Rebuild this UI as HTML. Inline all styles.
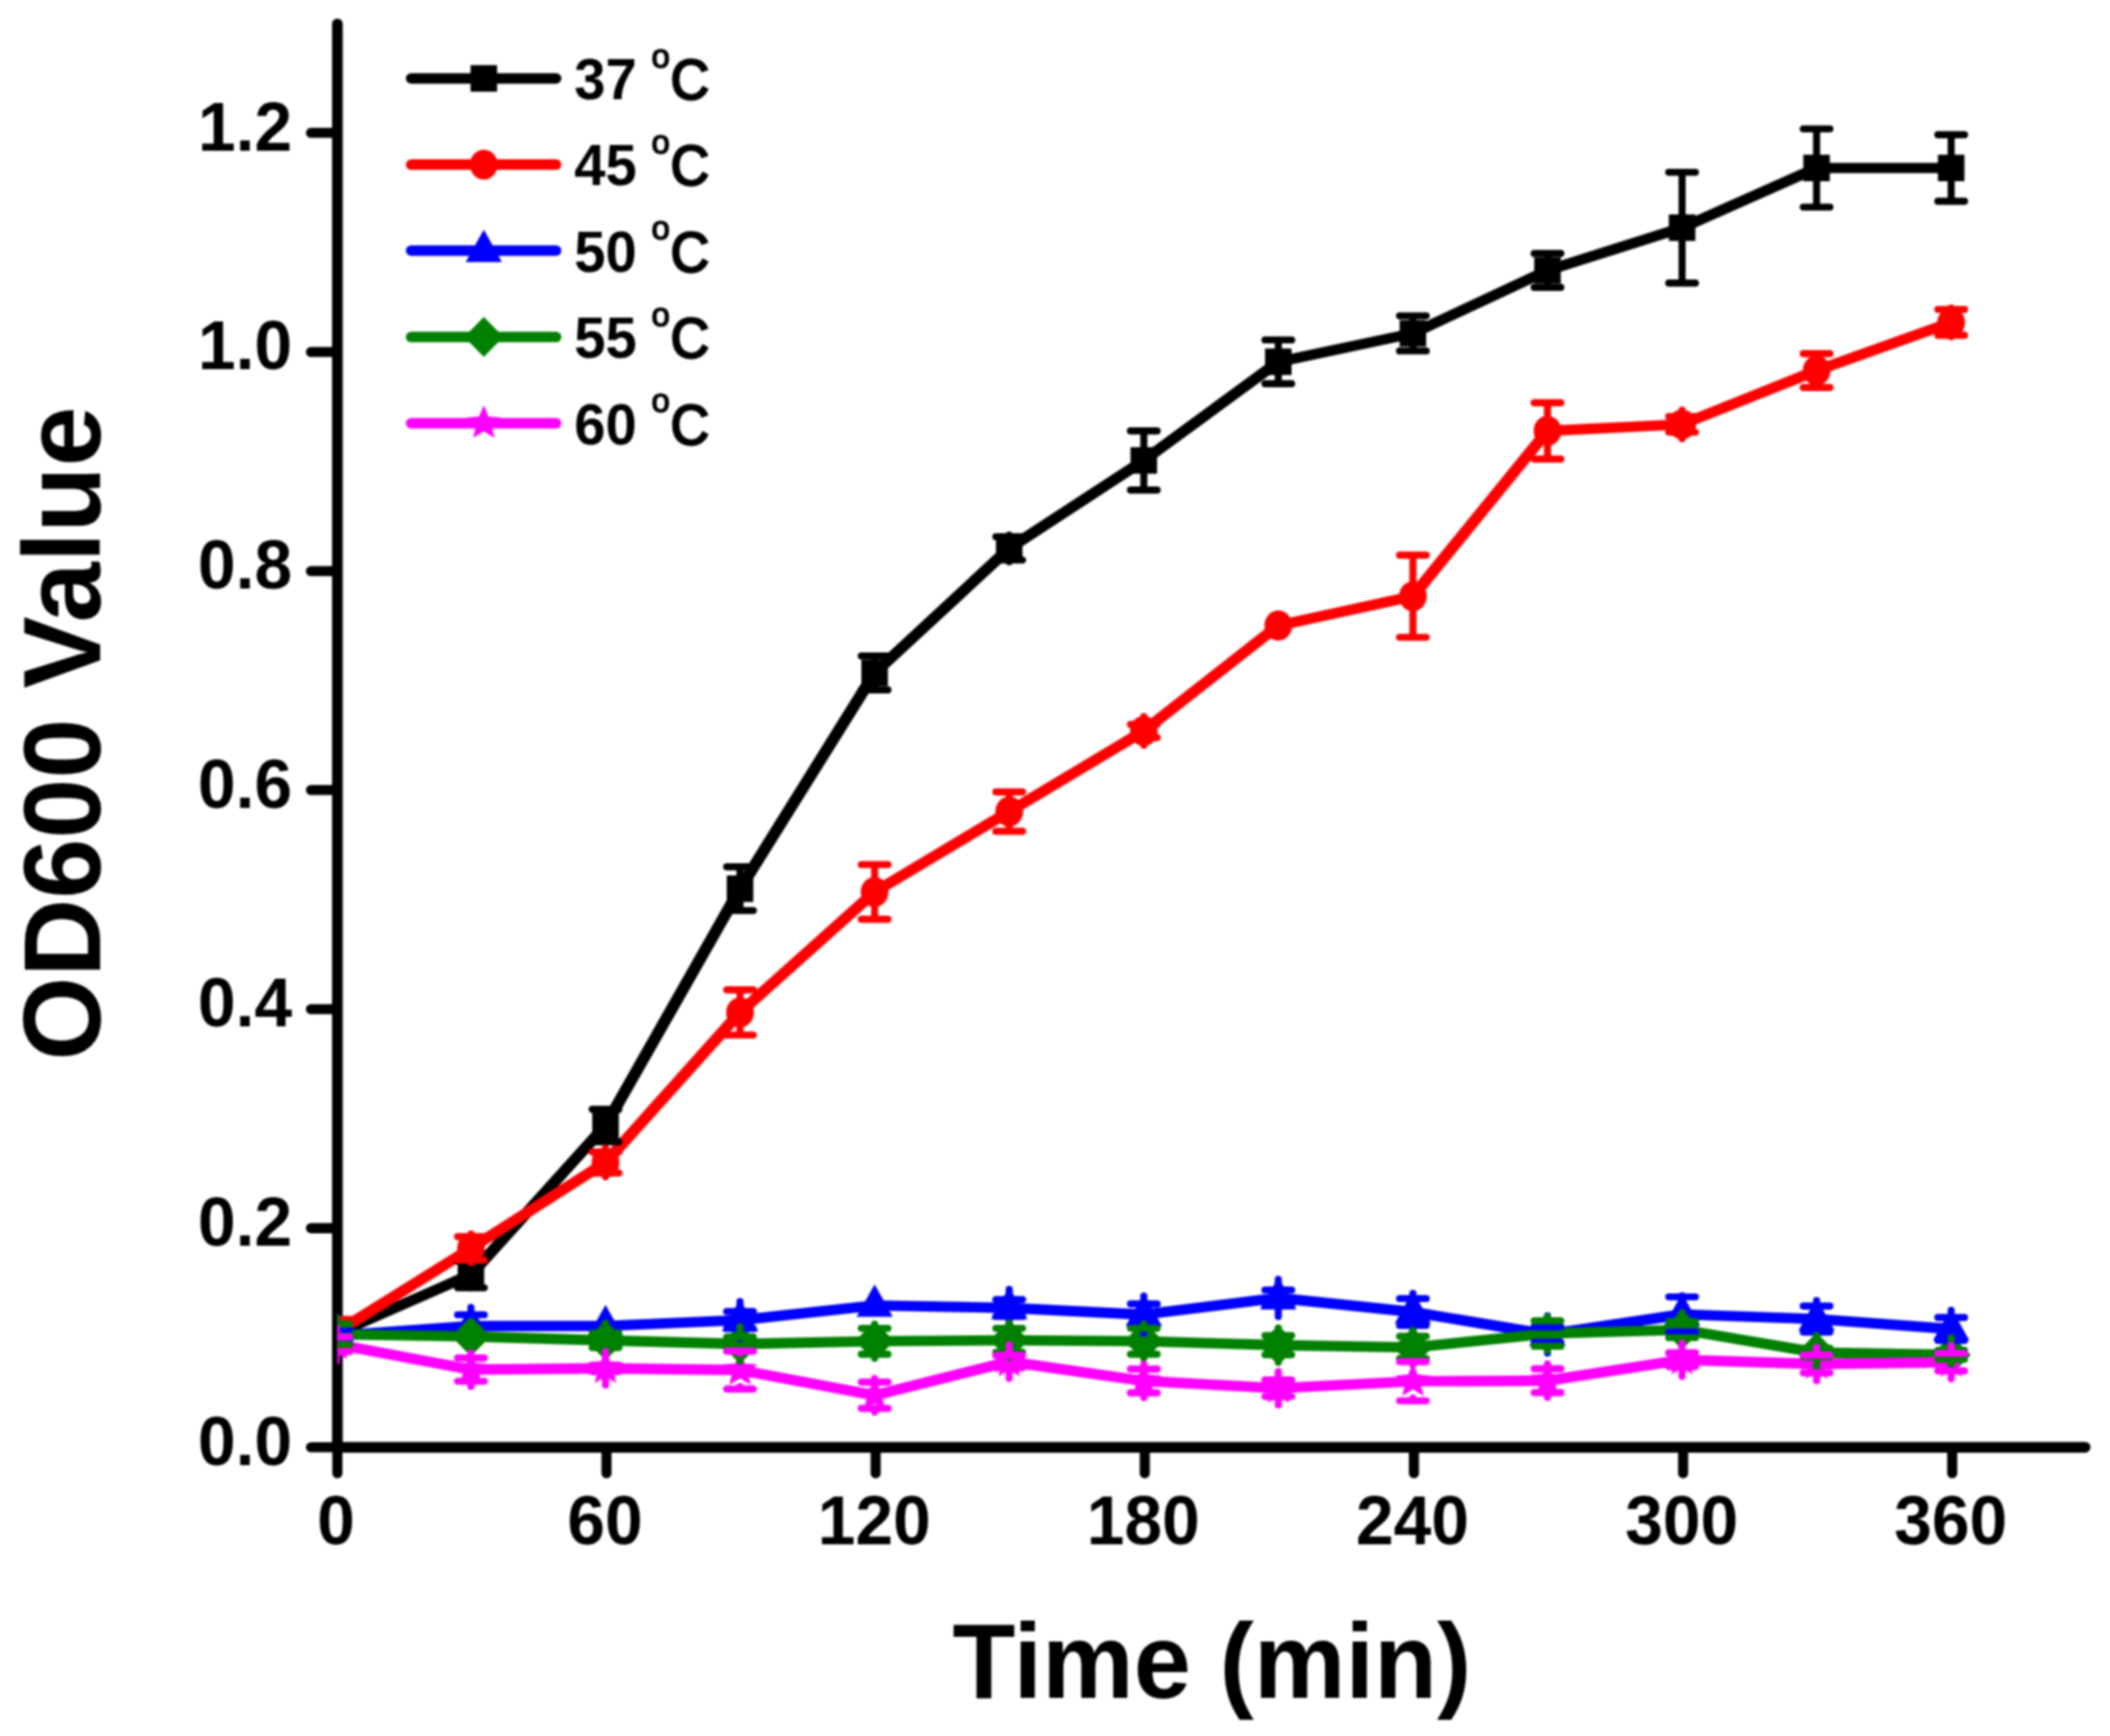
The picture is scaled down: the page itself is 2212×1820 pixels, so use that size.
<!DOCTYPE html>
<html><head><meta charset="utf-8"><style>
html,body{margin:0;padding:0;background:#fff;overflow:hidden;}
svg{display:block;}
.wrap{filter:blur(0.8px);}
text{font-family:"Liberation Sans",Arial,sans-serif;fill:#000;}
.tl{font-size:69px;font-weight:bold;}
.ttl{font-size:112px;font-weight:bold;}
.lg{font-size:59px;}
.b{font-weight:bold;}
.sup{font-size:34.5px;font-weight:normal;stroke:#000;stroke-width:1.5px;}
.r{font-weight:normal;stroke:#000;stroke-width:2.6px;}
</style></head><body>
<div class="wrap"><svg width="2212" height="1820" viewBox="0 0 2212 1820">
<rect width="2212" height="1820" fill="#fff"/>
<defs><clipPath id="pc"><rect x="353.7" y="0" width="1858.3" height="1820"/></clipPath></defs>
<path d="M353.7 25V1517.3H2186" stroke="#000" stroke-width="11.2" stroke-linecap="round" stroke-linejoin="miter" fill="none"/><path d="M353.7 1517.3H326M353.7 1287.6H326M353.7 1058.0H326M353.7 828.3H326M353.7 598.7H326M353.7 369.0H326M353.7 139.3H326M353.7 1517.3V1544.5M635.8 1517.3V1544.5M918.0 1517.3V1544.5M1200.1 1517.3V1544.5M1482.3 1517.3V1544.5M1764.5 1517.3V1544.5M2046.6 1517.3V1544.5" stroke="#000" stroke-width="10.6" stroke-linecap="round" fill="none"/>
<g clip-path="url(#pc)">
<line x1="352.6" y1="1398.2" x2="493.7" y2="1336.2" stroke="#000000" stroke-width="11.19" stroke-linecap="round"/>
<line x1="493.7" y1="1336.2" x2="634.8" y2="1180.0" stroke="#000000" stroke-width="11.89" stroke-linecap="round"/>
<line x1="634.8" y1="1180.0" x2="775.8" y2="931.7" stroke="#000000" stroke-width="12.26" stroke-linecap="round"/>
<line x1="775.8" y1="931.7" x2="916.9" y2="705.5" stroke="#000000" stroke-width="12.20" stroke-linecap="round"/>
<line x1="916.9" y1="705.5" x2="1058.0" y2="574.9" stroke="#000000" stroke-width="11.73" stroke-linecap="round"/>
<line x1="1058.0" y1="574.9" x2="1199.1" y2="482.7" stroke="#000000" stroke-width="11.44" stroke-linecap="round"/>
<line x1="1199.1" y1="482.7" x2="1340.1" y2="379.3" stroke="#000000" stroke-width="11.53" stroke-linecap="round"/>
<line x1="1340.1" y1="379.3" x2="1481.2" y2="349.5" stroke="#000000" stroke-width="10.98" stroke-linecap="round"/>
<line x1="1481.2" y1="349.5" x2="1622.3" y2="283.5" stroke="#000000" stroke-width="11.22" stroke-linecap="round"/>
<line x1="1622.3" y1="283.5" x2="1763.4" y2="238.7" stroke="#000000" stroke-width="11.06" stroke-linecap="round"/>
<line x1="1763.4" y1="238.7" x2="1904.4" y2="176.1" stroke="#000000" stroke-width="11.20" stroke-linecap="round"/>
<line x1="1904.4" y1="176.1" x2="2045.5" y2="176.1" stroke="#000000" stroke-width="10.90" stroke-linecap="round"/>
<rect x="338.7" y="1384.3" width="27.8" height="27.8" fill="#000000"/>
<rect x="479.8" y="1322.3" width="27.8" height="27.8" fill="#000000"/>
<rect x="620.9" y="1166.1" width="27.8" height="27.8" fill="#000000"/>
<rect x="761.9" y="917.8" width="27.8" height="27.8" fill="#000000"/>
<rect x="903.0" y="691.6" width="27.8" height="27.8" fill="#000000"/>
<rect x="1044.1" y="561.0" width="27.8" height="27.8" fill="#000000"/>
<rect x="1185.2" y="468.8" width="27.8" height="27.8" fill="#000000"/>
<rect x="1326.2" y="365.4" width="27.8" height="27.8" fill="#000000"/>
<rect x="1467.3" y="335.6" width="27.8" height="27.8" fill="#000000"/>
<rect x="1608.4" y="269.6" width="27.8" height="27.8" fill="#000000"/>
<rect x="1749.5" y="224.8" width="27.8" height="27.8" fill="#000000"/>
<rect x="1890.5" y="162.2" width="27.8" height="27.8" fill="#000000"/>
<rect x="2031.6" y="162.2" width="27.8" height="27.8" fill="#000000"/>
<line x1="352.6" y1="1396.8" x2="493.7" y2="1308.8" stroke="#ff0000" stroke-width="11.40" stroke-linecap="round"/>
<line x1="493.7" y1="1308.8" x2="634.8" y2="1218.7" stroke="#ff0000" stroke-width="11.42" stroke-linecap="round"/>
<line x1="634.8" y1="1218.7" x2="775.8" y2="1061.4" stroke="#ff0000" stroke-width="11.90" stroke-linecap="round"/>
<line x1="775.8" y1="1061.4" x2="916.9" y2="935.1" stroke="#ff0000" stroke-width="11.70" stroke-linecap="round"/>
<line x1="916.9" y1="935.1" x2="1058.0" y2="850.8" stroke="#ff0000" stroke-width="11.37" stroke-linecap="round"/>
<line x1="1058.0" y1="850.8" x2="1199.1" y2="766.3" stroke="#ff0000" stroke-width="11.38" stroke-linecap="round"/>
<line x1="1199.1" y1="766.3" x2="1340.1" y2="655.8" stroke="#ff0000" stroke-width="11.58" stroke-linecap="round"/>
<line x1="1340.1" y1="655.8" x2="1481.2" y2="625.1" stroke="#ff0000" stroke-width="10.98" stroke-linecap="round"/>
<line x1="1481.2" y1="625.1" x2="1622.3" y2="451.7" stroke="#ff0000" stroke-width="11.98" stroke-linecap="round"/>
<line x1="1622.3" y1="451.7" x2="1763.4" y2="444.9" stroke="#ff0000" stroke-width="10.90" stroke-linecap="round"/>
<line x1="1763.4" y1="444.9" x2="1904.4" y2="388.5" stroke="#ff0000" stroke-width="11.15" stroke-linecap="round"/>
<line x1="1904.4" y1="388.5" x2="2045.5" y2="338.0" stroke="#ff0000" stroke-width="11.10" stroke-linecap="round"/>
<ellipse cx="352.6" cy="1396.8" rx="14.5" ry="15.7" fill="#ff0000"/>
<ellipse cx="493.7" cy="1308.8" rx="14.5" ry="15.7" fill="#ff0000"/>
<ellipse cx="634.8" cy="1218.7" rx="14.5" ry="15.7" fill="#ff0000"/>
<ellipse cx="775.8" cy="1061.4" rx="14.5" ry="15.7" fill="#ff0000"/>
<ellipse cx="916.9" cy="935.1" rx="14.5" ry="15.7" fill="#ff0000"/>
<ellipse cx="1058.0" cy="850.8" rx="14.5" ry="15.7" fill="#ff0000"/>
<ellipse cx="1199.1" cy="766.3" rx="14.5" ry="15.7" fill="#ff0000"/>
<ellipse cx="1340.1" cy="655.8" rx="14.5" ry="15.7" fill="#ff0000"/>
<ellipse cx="1481.2" cy="625.1" rx="14.5" ry="15.7" fill="#ff0000"/>
<ellipse cx="1622.3" cy="451.7" rx="14.5" ry="15.7" fill="#ff0000"/>
<ellipse cx="1763.4" cy="444.9" rx="14.5" ry="15.7" fill="#ff0000"/>
<ellipse cx="1904.4" cy="388.5" rx="14.5" ry="15.7" fill="#ff0000"/>
<ellipse cx="2045.5" cy="338.0" rx="14.5" ry="15.7" fill="#ff0000"/>
<line x1="352.6" y1="1400.3" x2="493.7" y2="1390.3" stroke="#0000ff" stroke-width="10.91" stroke-linecap="round"/>
<line x1="493.7" y1="1390.3" x2="634.8" y2="1390.1" stroke="#0000ff" stroke-width="10.90" stroke-linecap="round"/>
<line x1="634.8" y1="1390.1" x2="775.8" y2="1384.0" stroke="#0000ff" stroke-width="10.90" stroke-linecap="round"/>
<line x1="775.8" y1="1384.0" x2="916.9" y2="1368.6" stroke="#0000ff" stroke-width="10.92" stroke-linecap="round"/>
<line x1="916.9" y1="1368.6" x2="1058.0" y2="1371.2" stroke="#0000ff" stroke-width="10.90" stroke-linecap="round"/>
<line x1="1058.0" y1="1371.2" x2="1199.1" y2="1378.2" stroke="#0000ff" stroke-width="10.90" stroke-linecap="round"/>
<line x1="1199.1" y1="1378.2" x2="1340.1" y2="1360.7" stroke="#0000ff" stroke-width="10.93" stroke-linecap="round"/>
<line x1="1340.1" y1="1360.7" x2="1481.2" y2="1375.5" stroke="#0000ff" stroke-width="10.92" stroke-linecap="round"/>
<line x1="1481.2" y1="1375.5" x2="1622.3" y2="1399.0" stroke="#0000ff" stroke-width="10.95" stroke-linecap="round"/>
<line x1="1622.3" y1="1399.0" x2="1763.4" y2="1378.0" stroke="#0000ff" stroke-width="10.94" stroke-linecap="round"/>
<line x1="1763.4" y1="1378.0" x2="1904.4" y2="1382.9" stroke="#0000ff" stroke-width="10.90" stroke-linecap="round"/>
<line x1="1904.4" y1="1382.9" x2="2045.5" y2="1393.3" stroke="#0000ff" stroke-width="10.91" stroke-linecap="round"/>
<polygon points="352.6,1378.3 371.6,1412.3 333.6,1412.3" fill="#0000ff"/>
<polygon points="493.7,1368.3 512.7,1402.3 474.7,1402.3" fill="#0000ff"/>
<polygon points="634.8,1368.1 653.8,1402.1 615.8,1402.1" fill="#0000ff"/>
<polygon points="775.8,1362.0 794.8,1396.0 756.8,1396.0" fill="#0000ff"/>
<polygon points="916.9,1346.6 935.9,1380.6 897.9,1380.6" fill="#0000ff"/>
<polygon points="1058.0,1349.2 1077.0,1383.2 1039.0,1383.2" fill="#0000ff"/>
<polygon points="1199.1,1356.2 1218.1,1390.2 1180.1,1390.2" fill="#0000ff"/>
<polygon points="1340.1,1338.7 1359.1,1372.7 1321.1,1372.7" fill="#0000ff"/>
<polygon points="1481.2,1353.5 1500.2,1387.5 1462.2,1387.5" fill="#0000ff"/>
<polygon points="1622.3,1377.0 1641.3,1411.0 1603.3,1411.0" fill="#0000ff"/>
<polygon points="1763.4,1356.0 1782.4,1390.0 1744.4,1390.0" fill="#0000ff"/>
<polygon points="1904.4,1360.9 1923.4,1394.9 1885.4,1394.9" fill="#0000ff"/>
<polygon points="2045.5,1371.3 2064.5,1405.3 2026.5,1405.3" fill="#0000ff"/>
<line x1="352.6" y1="1398.9" x2="493.7" y2="1401.1" stroke="#008000" stroke-width="10.90" stroke-linecap="round"/>
<line x1="493.7" y1="1401.1" x2="634.8" y2="1405.2" stroke="#008000" stroke-width="10.90" stroke-linecap="round"/>
<line x1="634.8" y1="1405.2" x2="775.8" y2="1409.0" stroke="#008000" stroke-width="10.90" stroke-linecap="round"/>
<line x1="775.8" y1="1409.0" x2="916.9" y2="1406.1" stroke="#008000" stroke-width="10.90" stroke-linecap="round"/>
<line x1="916.9" y1="1406.1" x2="1058.0" y2="1405.1" stroke="#008000" stroke-width="10.90" stroke-linecap="round"/>
<line x1="1058.0" y1="1405.1" x2="1199.1" y2="1406.1" stroke="#008000" stroke-width="10.90" stroke-linecap="round"/>
<line x1="1199.1" y1="1406.1" x2="1340.1" y2="1410.3" stroke="#008000" stroke-width="10.90" stroke-linecap="round"/>
<line x1="1340.1" y1="1410.3" x2="1481.2" y2="1412.6" stroke="#008000" stroke-width="10.90" stroke-linecap="round"/>
<line x1="1481.2" y1="1412.6" x2="1622.3" y2="1398.1" stroke="#008000" stroke-width="10.92" stroke-linecap="round"/>
<line x1="1622.3" y1="1398.1" x2="1763.4" y2="1394.1" stroke="#008000" stroke-width="10.90" stroke-linecap="round"/>
<line x1="1763.4" y1="1394.1" x2="1904.4" y2="1418.0" stroke="#008000" stroke-width="10.95" stroke-linecap="round"/>
<line x1="1904.4" y1="1418.0" x2="2045.5" y2="1420.4" stroke="#008000" stroke-width="10.90" stroke-linecap="round"/>
<polygon points="352.6,1377.9 373.1,1398.9 352.6,1419.9 332.1,1398.9" fill="#008000"/>
<polygon points="493.7,1380.1 514.2,1401.1 493.7,1422.1 473.2,1401.1" fill="#008000"/>
<polygon points="634.8,1384.2 655.2,1405.2 634.8,1426.2 614.2,1405.2" fill="#008000"/>
<polygon points="775.8,1388.0 796.3,1409.0 775.8,1430.0 755.3,1409.0" fill="#008000"/>
<polygon points="916.9,1385.1 937.4,1406.1 916.9,1427.1 896.4,1406.1" fill="#008000"/>
<polygon points="1058.0,1384.1 1078.5,1405.1 1058.0,1426.1 1037.5,1405.1" fill="#008000"/>
<polygon points="1199.1,1385.1 1219.6,1406.1 1199.1,1427.1 1178.6,1406.1" fill="#008000"/>
<polygon points="1340.1,1389.3 1360.6,1410.3 1340.1,1431.3 1319.6,1410.3" fill="#008000"/>
<polygon points="1481.2,1391.6 1501.7,1412.6 1481.2,1433.6 1460.7,1412.6" fill="#008000"/>
<polygon points="1622.3,1377.1 1642.8,1398.1 1622.3,1419.1 1601.8,1398.1" fill="#008000"/>
<polygon points="1763.4,1373.1 1783.9,1394.1 1763.4,1415.1 1742.9,1394.1" fill="#008000"/>
<polygon points="1904.4,1397.0 1924.9,1418.0 1904.4,1439.0 1883.9,1418.0" fill="#008000"/>
<polygon points="2045.5,1399.4 2066.0,1420.4 2045.5,1441.4 2025.0,1420.4" fill="#008000"/>
<line x1="352.6" y1="1409.4" x2="493.7" y2="1435.9" stroke="#ff00ff" stroke-width="10.96" stroke-linecap="round"/>
<line x1="493.7" y1="1435.9" x2="634.8" y2="1434.5" stroke="#ff00ff" stroke-width="10.90" stroke-linecap="round"/>
<line x1="634.8" y1="1434.5" x2="775.8" y2="1436.3" stroke="#ff00ff" stroke-width="10.90" stroke-linecap="round"/>
<line x1="775.8" y1="1436.3" x2="916.9" y2="1462.8" stroke="#ff00ff" stroke-width="10.96" stroke-linecap="round"/>
<line x1="916.9" y1="1462.8" x2="1058.0" y2="1427.5" stroke="#ff00ff" stroke-width="11.01" stroke-linecap="round"/>
<line x1="1058.0" y1="1427.5" x2="1199.1" y2="1447.8" stroke="#ff00ff" stroke-width="10.94" stroke-linecap="round"/>
<line x1="1199.1" y1="1447.8" x2="1340.1" y2="1455.4" stroke="#ff00ff" stroke-width="10.91" stroke-linecap="round"/>
<line x1="1340.1" y1="1455.4" x2="1481.2" y2="1448.1" stroke="#ff00ff" stroke-width="10.90" stroke-linecap="round"/>
<line x1="1481.2" y1="1448.1" x2="1622.3" y2="1447.5" stroke="#ff00ff" stroke-width="10.90" stroke-linecap="round"/>
<line x1="1622.3" y1="1447.5" x2="1763.4" y2="1425.6" stroke="#ff00ff" stroke-width="10.94" stroke-linecap="round"/>
<line x1="1763.4" y1="1425.6" x2="1904.4" y2="1430.0" stroke="#ff00ff" stroke-width="10.90" stroke-linecap="round"/>
<line x1="1904.4" y1="1430.0" x2="2045.5" y2="1428.1" stroke="#ff00ff" stroke-width="10.90" stroke-linecap="round"/>
<polygon points="352.6,1390.4 357.6,1402.4 370.7,1403.5 360.7,1412.0 363.8,1424.7 352.6,1417.9 341.4,1424.7 344.5,1412.0 334.5,1403.5 347.6,1402.4" fill="#ff00ff"/>
<polygon points="493.7,1416.9 498.7,1429.0 511.7,1430.0 501.8,1438.5 504.8,1451.3 493.7,1444.4 482.5,1451.3 485.5,1438.5 475.6,1430.0 488.6,1429.0" fill="#ff00ff"/>
<polygon points="634.8,1415.5 639.8,1427.6 652.8,1428.6 642.9,1437.1 645.9,1449.9 634.8,1443.1 623.6,1449.9 626.6,1437.1 616.7,1428.6 629.7,1427.6" fill="#ff00ff"/>
<polygon points="775.8,1417.3 780.9,1429.4 793.9,1430.5 784.0,1439.0 787.0,1451.7 775.8,1444.9 764.7,1451.7 767.7,1439.0 757.8,1430.5 770.8,1429.4" fill="#ff00ff"/>
<polygon points="916.9,1443.8 921.9,1455.8 935.0,1456.9 925.0,1465.4 928.1,1478.1 916.9,1471.3 905.7,1478.1 908.8,1465.4 898.8,1456.9 911.9,1455.8" fill="#ff00ff"/>
<polygon points="1058.0,1408.5 1063.0,1420.6 1076.0,1421.6 1066.1,1430.1 1069.1,1442.9 1058.0,1436.1 1046.8,1442.9 1049.8,1430.1 1039.9,1421.6 1052.9,1420.6" fill="#ff00ff"/>
<polygon points="1199.1,1428.8 1204.1,1440.9 1217.1,1442.0 1207.2,1450.5 1210.2,1463.2 1199.1,1456.4 1187.9,1463.2 1190.9,1450.5 1181.0,1442.0 1194.0,1440.9" fill="#ff00ff"/>
<polygon points="1340.1,1436.4 1345.2,1448.5 1358.2,1449.5 1348.3,1458.0 1351.3,1470.8 1340.1,1464.0 1329.0,1470.8 1332.0,1458.0 1322.1,1449.5 1335.1,1448.5" fill="#ff00ff"/>
<polygon points="1481.2,1429.1 1486.2,1441.1 1499.3,1442.2 1489.3,1450.7 1492.4,1463.4 1481.2,1456.6 1470.0,1463.4 1473.1,1450.7 1463.1,1442.2 1476.2,1441.1" fill="#ff00ff"/>
<polygon points="1622.3,1428.5 1627.3,1440.6 1640.3,1441.6 1630.4,1450.1 1633.4,1462.9 1622.3,1456.0 1611.1,1462.9 1614.1,1450.1 1604.2,1441.6 1617.2,1440.6" fill="#ff00ff"/>
<polygon points="1763.4,1406.6 1768.4,1418.6 1781.4,1419.7 1771.5,1428.2 1774.5,1440.9 1763.4,1434.1 1752.2,1440.9 1755.2,1428.2 1745.3,1419.7 1758.3,1418.6" fill="#ff00ff"/>
<polygon points="1904.4,1411.0 1909.5,1423.1 1922.5,1424.2 1912.6,1432.7 1915.6,1445.4 1904.4,1438.6 1893.3,1445.4 1896.3,1432.7 1886.4,1424.2 1899.4,1423.1" fill="#ff00ff"/>
<polygon points="2045.5,1409.1 2050.5,1421.2 2063.6,1422.2 2053.6,1430.7 2056.7,1443.4 2045.5,1436.6 2034.3,1443.4 2037.4,1430.7 2027.4,1422.2 2040.5,1421.2" fill="#ff00ff"/>
<path d="M493.7 1322.2V1322.3M479.7 1322.3H507.7M493.7 1350.1V1350.2M479.7 1350.1H507.7M634.8 1163.0V1166.0M620.8 1163.0H648.8M634.8 1194.0V1197.0M620.8 1197.0H648.8M775.8 908.7V917.7M761.8 908.7H789.8M775.8 945.7V954.6M761.8 954.6H789.8M916.9 687.7V691.5M902.9 687.7H930.9M916.9 719.5V723.3M902.9 723.3H930.9M1058.0 560.9V562.7M1044.0 562.7H1072.0M1058.0 587.1V588.9M1044.0 587.1H1072.0M1199.1 451.7V468.7M1185.1 451.7H1213.1M1199.1 496.7V513.7M1185.1 513.7H1213.1M1340.1 356.4V365.3M1326.1 356.4H1354.1M1340.1 393.3V402.3M1326.1 402.3H1354.1M1481.2 331.1V335.5M1467.2 331.1H1495.2M1481.2 363.5V367.9M1467.2 367.9H1495.2M1622.3 265.7V269.5M1608.3 265.7H1636.3M1622.3 297.5V301.3M1608.3 301.3H1636.3M1763.4 180.6V224.7M1749.4 180.6H1777.4M1763.4 252.7V296.8M1749.4 296.8H1777.4M1904.4 135.1V162.1M1890.4 135.1H1918.4M1904.4 190.1V217.1M1890.4 217.1H1918.4M2045.5 141.2V162.1M2031.5 141.2H2059.5M2045.5 190.1V211.0M2031.5 211.0H2059.5" stroke="#000000" stroke-width="7.4" stroke-linecap="round" fill="none"/>
<path d="M352.6 1381.8V1383.1M338.6 1383.1H366.6M352.6 1410.6V1411.8M338.6 1410.6H366.6M493.7 1293.8V1296.5M479.7 1296.5H507.7M493.7 1321.1V1323.8M479.7 1321.1H507.7M634.8 1203.7V1207.7M620.8 1207.7H648.8M634.8 1229.8V1233.7M620.8 1229.8H648.8M775.8 1037.8V1046.4M761.8 1037.8H789.8M775.8 1076.4V1085.1M761.8 1085.1H789.8M916.9 906.4V920.1M902.9 906.4H930.9M916.9 950.1V963.8M902.9 963.8H930.9M1058.0 830.2V835.8M1044.0 830.2H1072.0M1058.0 865.8V871.5M1044.0 871.5H1072.0M1199.1 751.3V759.4M1185.1 759.4H1213.1M1199.1 773.2V781.3M1185.1 773.2H1213.1M1481.2 582.0V610.1M1467.2 582.0H1495.2M1481.2 640.1V668.1M1467.2 668.1H1495.2M1622.3 422.2V436.7M1608.3 422.2H1636.3M1622.3 466.7V481.2M1608.3 481.2H1636.3M1763.4 429.9V436.7M1749.4 436.7H1777.4M1763.4 453.1V459.9M1749.4 453.1H1777.4M1904.4 370.7V373.5M1890.4 370.7H1918.4M1904.4 403.5V406.3M1890.4 406.3H1918.4M2045.5 323.0V324.4M2031.5 324.4H2059.5M2045.5 351.5V353.0M2031.5 351.5H2059.5" stroke="#ff0000" stroke-width="7.4" stroke-linecap="round" fill="none"/>
<path d="M352.6 1380.8V1393.6M338.6 1393.6H366.6M352.6 1406.9V1419.8M338.6 1406.9H366.6M493.7 1370.8V1378.4M479.7 1378.4H507.7M775.8 1364.5V1375.0M761.8 1375.0H789.8M775.8 1392.9V1403.5M761.8 1392.9H789.8M1058.0 1351.7V1362.4M1044.0 1362.4H1072.0M1058.0 1380.1V1390.7M1044.0 1380.1H1072.0M1199.1 1358.7V1367.0M1185.1 1367.0H1213.1M1199.1 1389.5V1397.7M1185.1 1389.5H1213.1M1340.1 1341.2V1352.4M1326.1 1352.4H1354.1M1340.1 1368.9V1380.2M1326.1 1368.9H1354.1M1481.2 1356.0V1361.4M1467.2 1361.4H1495.2M1481.2 1389.6V1395.0M1467.2 1389.6H1495.2M1622.3 1379.5V1391.0M1608.3 1391.0H1636.3M1622.3 1407.1V1418.5M1608.3 1407.1H1636.3M1763.4 1358.5V1359.6M1749.4 1359.6H1777.4M1763.4 1396.4V1397.5M1749.4 1396.4H1777.4M1904.4 1363.4V1369.3M1890.4 1369.3H1918.4M1904.4 1396.6V1402.4M1890.4 1396.6H1918.4M2045.5 1373.8V1381.2M2031.5 1381.2H2059.5M2045.5 1405.3V1412.8M2031.5 1405.3H2059.5" stroke="#0000ff" stroke-width="7.4" stroke-linecap="round" fill="none"/>
<path d="M352.6 1380.9V1388.2M338.6 1388.2H366.6M352.6 1409.6V1416.9M338.6 1409.6H366.6M634.8 1387.2V1397.6M620.8 1397.6H648.8M634.8 1412.8V1423.2M620.8 1412.8H648.8M775.8 1391.0V1401.6M761.8 1401.6H789.8M775.8 1416.5V1427.0M761.8 1416.5H789.8M916.9 1388.1V1392.6M902.9 1392.6H930.9M916.9 1419.7V1424.1M902.9 1419.7H930.9M1058.0 1387.1V1392.6M1044.0 1392.6H1072.0M1058.0 1417.6V1423.1M1044.0 1417.6H1072.0M1199.1 1388.1V1392.6M1185.1 1392.6H1213.1M1199.1 1419.7V1424.1M1185.1 1419.7H1213.1M1340.1 1392.3V1400.3M1326.1 1400.3H1354.1M1340.1 1420.3V1428.3M1326.1 1420.3H1354.1M1481.2 1394.6V1400.9M1467.2 1400.9H1495.2M1481.2 1424.3V1430.6M1467.2 1424.3H1495.2M1622.3 1380.1V1384.8M1608.3 1384.8H1636.3M1622.3 1411.4V1416.1M1608.3 1411.4H1636.3M1763.4 1376.1V1385.8M1749.4 1385.8H1777.4M1763.4 1402.4V1412.1M1749.4 1402.4H1777.4M1904.4 1400.0V1413.4M1890.4 1413.4H1918.4M1904.4 1422.6V1436.0M1890.4 1422.6H1918.4M2045.5 1402.4V1415.8M2031.5 1415.8H2059.5M2045.5 1425.0V1438.4M2031.5 1425.0H2059.5" stroke="#008000" stroke-width="7.4" stroke-linecap="round" fill="none"/>
<path d="M352.6 1391.9V1401.7M338.6 1401.7H366.6M352.6 1417.1V1426.9M338.6 1417.1H366.6M493.7 1418.4V1423.7M479.7 1423.7H507.7M493.7 1448.1V1453.4M479.7 1448.1H507.7M634.8 1417.0V1431.1M620.8 1431.1H648.8M634.8 1438.0V1452.0M620.8 1438.0H648.8M775.8 1416.5V1418.8M761.8 1416.5H789.8M775.8 1453.8V1456.2M761.8 1456.2H789.8M916.9 1445.3V1449.0M902.9 1449.0H930.9M916.9 1476.5V1480.3M902.9 1476.5H930.9M1058.0 1410.0V1421.0M1044.0 1421.0H1072.0M1058.0 1434.0V1445.0M1044.0 1434.0H1072.0M1199.1 1430.3V1435.3M1185.1 1435.3H1213.1M1199.1 1460.3V1465.3M1185.1 1460.3H1213.1M1340.1 1437.9V1446.8M1326.1 1446.8H1354.1M1340.1 1464.0V1472.9M1326.1 1464.0H1354.1M1481.2 1427.5V1430.6M1467.2 1427.5H1495.2M1481.2 1465.6V1468.6M1467.2 1468.6H1495.2M1622.3 1430.0V1435.0M1608.3 1435.0H1636.3M1622.3 1460.0V1465.0M1608.3 1460.0H1636.3M1763.4 1408.1V1418.3M1749.4 1418.3H1777.4M1763.4 1432.8V1443.1M1749.4 1432.8H1777.4M1904.4 1412.5V1420.8M1890.4 1420.8H1918.4M1904.4 1439.2V1447.5M1890.4 1439.2H1918.4M2045.5 1410.6V1418.9M2031.5 1418.9H2059.5M2045.5 1437.3V1445.6M2031.5 1437.3H2059.5" stroke="#ff00ff" stroke-width="7.4" stroke-linecap="round" fill="none"/>
</g>
<text transform="translate(306.3,1535.6) scale(1.03,1.05)" text-anchor="end" class="tl">0.0</text><text transform="translate(306.3,1305.9) scale(1.03,1.05)" text-anchor="end" class="tl">0.2</text><text transform="translate(306.3,1076.3) scale(1.03,1.05)" text-anchor="end" class="tl">0.4</text><text transform="translate(306.3,846.6) scale(1.03,1.05)" text-anchor="end" class="tl">0.6</text><text transform="translate(306.3,617.0) scale(1.03,1.05)" text-anchor="end" class="tl">0.8</text><text transform="translate(306.3,387.3) scale(1.03,1.05)" text-anchor="end" class="tl">1.0</text><text transform="translate(306.3,157.6) scale(1.03,1.05)" text-anchor="end" class="tl">1.2</text><text transform="translate(352.2,1619.2) scale(1.03,1.05)" text-anchor="middle" class="tl">0</text><text transform="translate(634.3,1619.2) scale(1.03,1.05)" text-anchor="middle" class="tl">60</text><text transform="translate(916.5,1619.2) scale(1.03,1.05)" text-anchor="middle" class="tl">120</text><text transform="translate(1198.6,1619.2) scale(1.03,1.05)" text-anchor="middle" class="tl">180</text><text transform="translate(1480.8,1619.2) scale(1.03,1.05)" text-anchor="middle" class="tl">240</text><text transform="translate(1763.0,1619.2) scale(1.03,1.05)" text-anchor="middle" class="tl">300</text><text transform="translate(2045.1,1619.2) scale(1.03,1.05)" text-anchor="middle" class="tl">360</text>
<text transform="translate(998.5,1779.5) scale(0.964,1.0)" class="ttl">Time (min)</text>
<text transform="translate(104.5,1112) rotate(-90) scale(1.011,1.023)" class="ttl">OD600 Value</text>
<path d="M431 82.2H583" stroke="#000000" stroke-width="11" stroke-linecap="round"/><rect x="493.3" y="68.3" width="27.8" height="27.8" fill="#000000"/><text transform="translate(602,104.0) scale(1,1.035)" class="lg b">37</text><text x="683.0" y="70.6" class="sup">o</text><text transform="translate(703.0,104.0) scale(0.95,1.0)" class="lg r">C</text><path d="M431 172.6H583" stroke="#ff0000" stroke-width="11" stroke-linecap="round"/><ellipse cx="507.2" cy="172.6" rx="14.5" ry="15.7" fill="#ff0000"/><text transform="translate(602,194.4) scale(1,1.035)" class="lg b">45</text><text x="683.0" y="161.0" class="sup">o</text><text transform="translate(703.0,194.4) scale(0.95,1.0)" class="lg r">C</text><path d="M431 262.7H583" stroke="#0000ff" stroke-width="11" stroke-linecap="round"/><polygon points="507.2,240.7 526.2,274.7 488.2,274.7" fill="#0000ff"/><text transform="translate(602,284.5) scale(1,1.035)" class="lg b">50</text><text x="683.0" y="251.1" class="sup">o</text><text transform="translate(703.0,284.5) scale(0.95,1.0)" class="lg r">C</text><path d="M431 353.3H583" stroke="#008000" stroke-width="11" stroke-linecap="round"/><polygon points="507.2,332.3 527.7,353.3 507.2,374.3 486.7,353.3" fill="#008000"/><text transform="translate(602,375.1) scale(1,1.035)" class="lg b">55</text><text x="683.0" y="341.7" class="sup">o</text><text transform="translate(703.0,375.1) scale(0.95,1.0)" class="lg r">C</text><path d="M431 443.7H583" stroke="#ff00ff" stroke-width="11" stroke-linecap="round"/><polygon points="507.2,424.7 512.2,436.8 525.3,437.8 515.3,446.3 518.4,459.1 507.2,452.2 496.0,459.1 499.1,446.3 489.1,437.8 502.2,436.8" fill="#ff00ff"/><text transform="translate(602,465.5) scale(1,1.035)" class="lg b">60</text><text x="683.0" y="432.1" class="sup">o</text><text transform="translate(703.0,465.5) scale(0.95,1.0)" class="lg r">C</text>
</svg></div>
</body></html>
